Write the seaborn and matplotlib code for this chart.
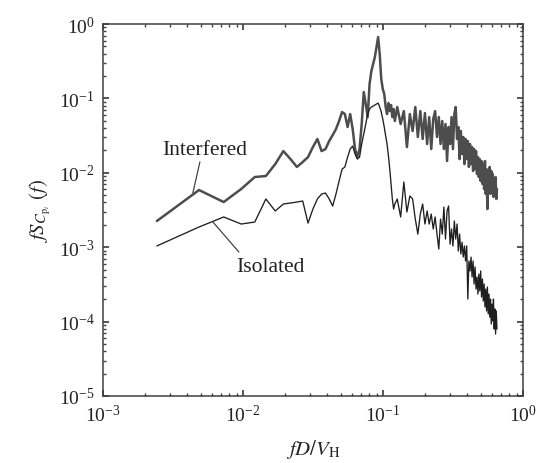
import matplotlib

matplotlib.use("Agg")

import matplotlib.pyplot as plt  # noqa: E402
import numpy as np  # noqa: E402
import seaborn as sns  # noqa: E402

# spectrum frequencies (fD/V_H): full resolution up to ~0.12, every 3rd bin beyond
freq = [
    0.00243, 0.00486, 0.00729, 0.00972, 0.01215, 0.01458, 0.01701, 0.01944,
    0.02187, 0.0243, 0.02673, 0.02916, 0.03159, 0.03402, 0.03645, 0.03888,
    0.04131, 0.04374, 0.04617, 0.0486, 0.05103, 0.05346, 0.05589, 0.05832,
    0.06075, 0.06318, 0.06561, 0.06804, 0.07047, 0.0729, 0.07533, 0.07776,
    0.08019, 0.08262, 0.08505, 0.08748, 0.08991, 0.09234, 0.09477, 0.0972,
    0.09963, 0.1021, 0.1045, 0.1069, 0.1094, 0.1118, 0.1142, 0.1166,
    0.1191, 0.1215,
    0.1264, 0.1337, 0.1409, 0.1482, 0.1555, 0.1628, 0.1701, 0.1774,
    0.1847, 0.1920, 0.1993, 0.2066, 0.2138, 0.2211, 0.2284, 0.2357,
    0.2430, 0.2503, 0.2576, 0.2649, 0.2722, 0.2795, 0.2867, 0.2940,
    0.3013, 0.3086, 0.3159, 0.3232, 0.3305, 0.3378, 0.3451, 0.3524,
    0.3596, 0.3669, 0.3742, 0.3815, 0.3888, 0.3961, 0.4034, 0.4107,
    0.4180, 0.4253, 0.4325, 0.4398, 0.4471, 0.4544, 0.4617, 0.4690,
    0.4763, 0.4836, 0.4909, 0.4982, 0.5054, 0.5127, 0.5200, 0.5273,
    0.5346, 0.5419, 0.5492, 0.5565, 0.5638, 0.5711, 0.5783, 0.5856,
    0.5929, 0.6002, 0.6075, 0.6148, 0.6221, 0.6294, 0.6367, 0.6440,
    0.6512,
]

interfered = [
    0.00225, 0.00587, 0.00405, 0.00606, 0.00878, 0.00906, 0.0131, 0.0196,
    0.0153, 0.0120, 0.0140, 0.0163, 0.0222, 0.0285, 0.0196, 0.0209,
    0.0268, 0.0322, 0.0388, 0.0497, 0.0656, 0.0617, 0.0413, 0.0617,
    0.0388, 0.0209, 0.0163, 0.0209, 0.0453, 0.122, 0.0841, 0.0562,
    0.156, 0.233, 0.290, 0.360, 0.491, 0.669, 0.395, 0.182,
    0.134, 0.115, 0.0766, 0.0617, 0.0867, 0.0677, 0.0815, 0.0562,
    0.0721, 0.0497,
    0.0766, 0.0453, 0.0677, 0.0222, 0.0617, 0.0365, 0.0766, 0.0303,
    0.0677, 0.0285, 0.0636, 0.0244, 0.0562, 0.0209, 0.0529, 0.0677,
    0.0303, 0.0562, 0.0244, 0.0497, 0.0209, 0.0453, 0.0144, 0.0413,
    0.0244, 0.0562, 0.0209, 0.0617, 0.0766, 0.0285, 0.0413, 0.0153,
    0.0365, 0.0179, 0.0303, 0.0131, 0.0285, 0.0153, 0.0268, 0.0120,
    0.0244, 0.0131, 0.0222, 0.0106, 0.0209, 0.0112, 0.0196, 0.00964,
    0.0163, 0.00878, 0.0153, 0.00776, 0.0144, 0.00707, 0.0131, 0.00606,
    0.0144, 0.00519, 0.0112, 0.00326, 0.0106, 0.00569, 0.0120, 0.00519,
    0.0106, 0.00606, 0.00964, 0.00473, 0.00826, 0.00519, 0.00878, 0.00445,
    0.00606,
]

isolated = [
    0.00104, 0.00187, 0.00255, 0.00205, 0.00218, 0.00445, 0.00307, 0.00381,
    0.00393, 0.00405, 0.00418, 0.00211, 0.00326, 0.00445, 0.00519, 0.00535,
    0.00445, 0.00358, 0.00519, 0.00776, 0.0112, 0.0120, 0.0163, 0.0209,
    0.0229, 0.0179, 0.0153, 0.0163, 0.0244, 0.0333, 0.0453, 0.0617,
    0.0721, 0.0766, 0.0791, 0.0815, 0.0841, 0.0867, 0.0766, 0.0656,
    0.0529, 0.0413, 0.0312, 0.0244, 0.0168, 0.0112, 0.00707, 0.00445,
    0.00326, 0.00381,
    0.00445, 0.00255, 0.00752, 0.00297, 0.00488, 0.00445, 0.00239, 0.00150,
    0.00279, 0.00381, 0.00205, 0.00307, 0.00205, 0.00279, 0.00176, 0.00255,
    0.00150, 0.000946, 0.00239, 0.00150, 0.00347, 0.00129, 0.00307, 0.00358,
    0.00110, 0.00176, 0.00104, 0.00225, 0.00129, 0.00205, 0.000889, 0.00150,
    0.000811, 0.00117, 0.000738, 0.00104, 0.000653, 0.00104, 0.000201, 0.000653,
    0.000479, 0.000738, 0.000397, 0.000653, 0.000320, 0.000542, 0.000274, 0.000397,
    0.000235, 0.000436, 0.000258, 0.000479, 0.000214, 0.000374, 0.000189, 0.000320,
    0.000157, 0.000274, 0.000139, 0.000292, 0.000127, 0.000235, 0.000115, 0.000201,
    0.0000929, 0.000172, 0.000102, 0.000201, 0.0000796, 0.000148, 0.0000681, 0.000139,
    0.0000796,
]

# callout labels: text anchor and leader line ends (data coords)
labels = ["Interfered", "Isolated"]
label_xy = [(0.00535, 0.0209), (0.0156, 0.000559)]
leader_x = [(0.00493, 0.00439), (0.00611, 0.00936)]
leader_y = [(0.0140, 0.00535), (0.00218, 0.000862)]

sns.set_theme(style="ticks")
plt.rcParams.update({
    "font.family": ["Liberation Serif", "DejaVu Serif"],
    "mathtext.fontset": "stix",
    "axes.edgecolor": "#404040",
    "axes.linewidth": 1.1,
    "xtick.direction": "in",
    "ytick.direction": "in",
    "xtick.top": True,
    "ytick.right": True,
    "xtick.minor.visible": True,
    "ytick.minor.visible": True,
    "xtick.color": "#404040",
    "ytick.color": "#404040",
    "xtick.labelcolor": "#222222",
    "ytick.labelcolor": "#222222",
    "xtick.major.size": 4,
    "ytick.major.size": 4,
    "xtick.minor.size": 2,
    "ytick.minor.size": 2,
})

fig = plt.figure(figsize=(5.5, 4.64), dpi=100)
ax = fig.add_axes([0.187, 0.1444, 0.764, 0.8016])

ax.set_xscale("log")
ax.set_yscale("log")

sns.lineplot(x=np.array(freq), y=np.array(interfered), ax=ax, estimator=None,
             sort=False, color="#4d4d4d", linewidth=1.8)
sns.lineplot(x=np.array(freq), y=np.array(isolated), ax=ax, estimator=None,
             sort=False, color="#1f1f1f", linewidth=0.95)

ax.set_xlim(1e-3, 1)
ax.set_ylim(1e-5, 1)
ax.tick_params(axis="both", which="major", labelsize=14, pad=6)

ax.set_xlabel(r"$fD/V_{\mathrm{H}}$", fontsize=15, labelpad=8)
ax.set_ylabel(r"$fS_{C_{\mathrm{p}_i}}\ (f)$", fontsize=15, labelpad=4)

for text, (tx, ty), lx, ly in zip(labels, label_xy, leader_x, leader_y):
    ax.plot(lx, ly, color="#444444", lw=0.9)
    ax.text(tx, ty, text, fontsize=15.5, color="#222222",
            ha="center", va="center")

plt.savefig("out.png", dpi=100)
plt.close()
